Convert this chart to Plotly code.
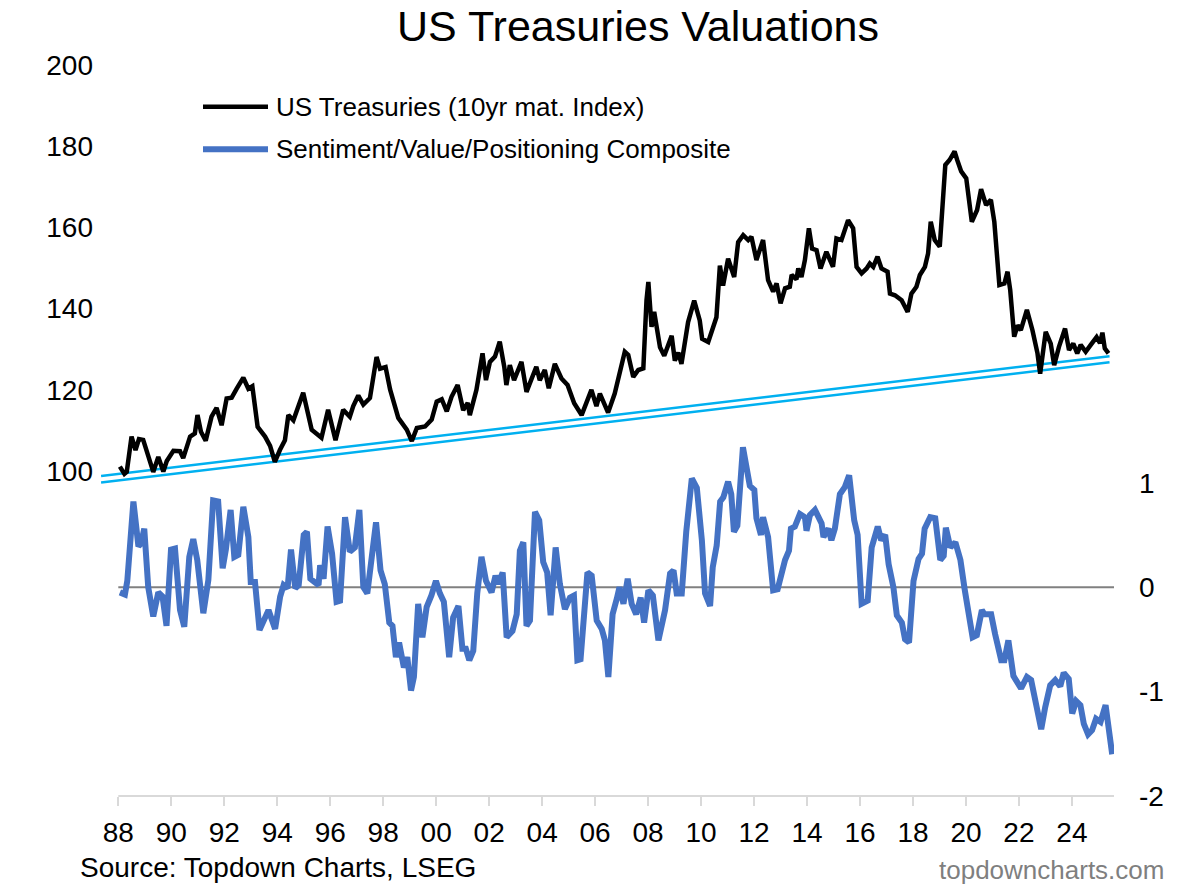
import plotly.graph_objects as go

W, H = 1200, 889
L, R, T, B = 101, 86, 65, 93

# US Treasuries (10yr mat. Index): decimal year, level
ust_year = [
    1988.06, 1988.23, 1988.32, 1988.50, 1988.65, 1988.78, 1988.94, 1989.13, 1989.32, 1989.51,
    1989.70, 1989.83, 1990.08, 1990.33, 1990.45, 1990.71, 1990.89, 1990.99, 1991.12, 1991.30,
    1991.52, 1991.71, 1991.90, 1992.09, 1992.28, 1992.47, 1992.72, 1992.91, 1993.06, 1993.26,
    1993.54, 1993.73, 1993.91, 1994.10, 1994.29, 1994.42, 1994.61, 1994.98, 1995.30, 1995.67,
    1995.92, 1996.20, 1996.49, 1996.74, 1996.87, 1997.06, 1997.25, 1997.50, 1997.75, 1997.88,
    1998.09, 1998.26, 1998.57, 1998.89, 1999.08, 1999.27, 1999.58, 1999.83, 2000.02, 2000.21,
    2000.40, 2000.58, 2000.81, 2001.02, 2001.19, 2001.27, 2001.52, 2001.75, 2001.88, 2002.03,
    2002.22, 2002.40, 2002.57, 2002.65, 2002.78, 2002.94, 2003.22, 2003.41, 2003.57, 2003.78,
    2003.91, 2004.10, 2004.25, 2004.48, 2004.73, 2004.96, 2005.21, 2005.49, 2005.86, 2006.05,
    2006.18, 2006.49, 2006.74, 2006.93, 2007.12, 2007.25, 2007.44, 2007.63, 2007.82, 2007.94,
    2008.01, 2008.13, 2008.23, 2008.45, 2008.61, 2008.89, 2009.01, 2009.14, 2009.26, 2009.51,
    2009.74, 2009.95, 2010.04, 2010.27, 2010.46, 2010.58, 2010.71, 2010.83, 2011.02, 2011.25,
    2011.40, 2011.59, 2011.78, 2011.90, 2012.09, 2012.34, 2012.53, 2012.72, 2012.85, 2013.00,
    2013.17, 2013.35, 2013.42, 2013.60, 2013.67, 2013.79, 2013.92, 2014.07, 2014.19, 2014.36,
    2014.51, 2014.73, 2014.98, 2015.11, 2015.30, 2015.55, 2015.74, 2015.87, 2016.06, 2016.25,
    2016.37, 2016.50, 2016.66, 2016.81, 2017.04, 2017.13, 2017.32, 2017.57, 2017.80, 2017.94,
    2018.13, 2018.26, 2018.45, 2018.57, 2018.67, 2018.82, 2019.01, 2019.22, 2019.38, 2019.57,
    2019.67, 2019.82, 2020.01, 2020.22, 2020.42, 2020.57, 2020.76, 2020.94, 2021.07, 2021.26,
    2021.45, 2021.57, 2021.67, 2021.82, 2021.95, 2022.07, 2022.30, 2022.51, 2022.70, 2022.80,
    2023.01, 2023.20, 2023.33, 2023.51, 2023.74, 2023.89, 2024.05, 2024.20, 2024.33, 2024.52,
    2024.71, 2024.93, 2025.06, 2025.15, 2025.24, 2025.38,
]
ust_value = [
    101.1, 99.3, 99.8, 108.5, 105.2, 107.9, 107.7, 103.5, 99.8, 103.5,
    99.9, 102.5, 105.0, 104.9, 103.2, 108.5, 109.3, 113.8, 109.7, 107.5,
    113.4, 115.6, 111.3, 117.9, 118.1, 120.3, 123.0, 120.3, 120.9, 110.9,
    108.5, 106.2, 102.3, 105.2, 107.6, 113.8, 112.5, 119.3, 110.2, 108.2,
    115.1, 107.6, 115.1, 113.4, 116.0, 118.6, 116.4, 118.0, 128.1, 125.2,
    125.6, 120.1, 113.1, 110.2, 107.4, 110.6, 111.0, 112.7, 117.1, 117.7,
    114.7, 118.3, 121.2, 115.0, 116.8, 113.8, 120.0, 129.0, 122.4, 126.9,
    128.2, 131.9, 125.7, 121.2, 126.1, 122.4, 126.9, 119.5, 122.4, 125.7,
    122.4, 124.9, 120.4, 126.4, 122.8, 121.2, 116.7, 113.8, 120.0, 116.0,
    119.1, 114.4, 119.1, 124.1, 129.4, 128.6, 123.2, 124.9, 125.3, 142.1,
    146.6, 135.5, 139.2, 130.5, 128.4, 133.3, 127.2, 129.2, 126.4, 136.7,
    142.0, 137.1, 132.6, 131.8, 135.5, 137.9, 150.6, 145.7, 152.3, 147.8,
    156.4, 158.1, 156.9, 157.7, 152.0, 156.9, 147.0, 144.2, 146.2, 141.3,
    145.0, 145.4, 148.3, 147.2, 149.9, 147.8, 152.0, 159.8, 154.8, 154.4,
    149.9, 154.0, 150.3, 157.3, 156.9, 161.8, 159.8, 150.3, 148.7, 149.9,
    151.1, 150.3, 152.8, 149.9, 149.1, 143.7, 143.3, 142.1, 139.2, 143.7,
    145.4, 148.3, 150.3, 153.6, 161.4, 156.9, 155.3, 175.4, 176.6, 178.7,
    176.6, 173.8, 172.1, 161.4, 164.3, 169.4, 165.5, 166.8, 161.4, 145.8,
    146.2, 149.1, 144.6, 133.1, 135.9, 134.7, 139.7, 134.7, 129.0, 124.0,
    134.3, 131.4, 126.1, 130.6, 135.1, 129.8, 131.4, 129.0, 131.1, 129.4,
    131.1, 133.0, 131.5, 134.1, 130.2, 129.0,
]

# Sentiment/Value/Positioning Composite: decimal year, score
comp_year = [
    1988.06, 1988.25, 1988.34, 1988.57, 1988.76, 1988.86, 1988.98, 1989.13, 1989.32, 1989.51,
    1989.67, 1989.82, 1989.99, 1990.14, 1990.33, 1990.49, 1990.68, 1990.83, 1990.98, 1991.21,
    1991.40, 1991.58, 1991.77, 1991.94, 1992.06, 1992.24, 1992.38, 1992.53, 1992.72, 1992.91,
    1993.00, 1993.16, 1993.33, 1993.67, 1993.92, 1994.11, 1994.24, 1994.39, 1994.52, 1994.68,
    1994.81, 1995.00, 1995.12, 1995.25, 1995.40, 1995.56, 1995.62, 1995.75, 1995.90, 1996.07,
    1996.24, 1996.37, 1996.56, 1996.74, 1996.93, 1997.10, 1997.25, 1997.40, 1997.73, 1997.90,
    1998.06, 1998.23, 1998.35, 1998.48, 1998.60, 1998.78, 1998.91, 1999.05, 1999.16, 1999.32,
    1999.48, 1999.64, 1999.82, 1999.99, 2000.14, 2000.29, 2000.49, 2000.64, 2000.84, 2000.99,
    2001.12, 2001.25, 2001.40, 2001.55, 2001.71, 2001.88, 2002.09, 2002.24, 2002.34, 2002.51,
    2002.66, 2002.88, 2003.04, 2003.16, 2003.29, 2003.41, 2003.54, 2003.73, 2003.89, 2004.04,
    2004.19, 2004.32, 2004.51, 2004.67, 2004.86, 2005.05, 2005.20, 2005.33, 2005.45, 2005.71,
    2005.87, 2006.06, 2006.25, 2006.37, 2006.50, 2006.66, 2006.82, 2006.92, 2007.07, 2007.23,
    2007.38, 2007.55, 2007.72, 2007.85, 2008.01, 2008.18, 2008.39, 2008.64, 2008.83, 2008.96,
    2009.08, 2009.27, 2009.44, 2009.65, 2009.84, 2010.03, 2010.15, 2010.34, 2010.44, 2010.59,
    2010.72, 2010.84, 2011.02, 2011.14, 2011.24, 2011.37, 2011.58, 2011.75, 2011.84, 2012.01,
    2012.09, 2012.26, 2012.34, 2012.53, 2012.72, 2012.89, 2013.04, 2013.17, 2013.32, 2013.39,
    2013.54, 2013.73, 2013.92, 2013.98, 2014.11, 2014.30, 2014.55, 2014.62, 2014.81, 2014.92,
    2015.05, 2015.24, 2015.43, 2015.59, 2015.78, 2015.91, 2016.06, 2016.29, 2016.44, 2016.67,
    2016.80, 2016.95, 2017.08, 2017.26, 2017.39, 2017.58, 2017.70, 2017.85, 2018.02, 2018.21,
    2018.34, 2018.44, 2018.65, 2018.84, 2019.03, 2019.16, 2019.24, 2019.41, 2019.60, 2019.79,
    2019.95, 2020.10, 2020.25, 2020.41, 2020.60, 2020.70, 2020.95, 2021.10, 2021.33, 2021.45,
    2021.60, 2021.79, 2022.08, 2022.30, 2022.46, 2022.67, 2022.84, 2022.99, 2023.18, 2023.37,
    2023.56, 2023.69, 2023.88, 2024.01, 2024.16, 2024.32, 2024.45, 2024.61, 2024.76, 2024.91,
    2025.08, 2025.27, 2025.39, 2025.46, 2025.52,
]
comp_value = [
    -0.05, -0.07, 0.06, 0.82, 0.39, 0.42, 0.56, 0.00, -0.28, -0.05,
    -0.09, -0.37, 0.36, 0.37, -0.22, -0.38, 0.29, 0.46, 0.26, -0.25,
    0.07, 0.83, 0.82, 0.18, 0.36, 0.74, 0.29, 0.31, 0.77, 0.48,
    0.05, 0.05, -0.41, -0.22, -0.40, -0.09, 0.02, -0.01, 0.36, -0.01,
    0.02, 0.50, 0.53, 0.08, 0.05, 0.02, 0.21, 0.08, 0.58, 0.32,
    -0.14, -0.13, 0.67, 0.34, 0.38, 0.74, 0.00, -0.06, 0.62, 0.16,
    0.03, -0.34, -0.37, -0.67, -0.53, -0.77, -0.67, -0.99, -0.86, -0.16,
    -0.48, -0.19, -0.08, 0.06, -0.06, -0.14, -0.67, -0.29, -0.18, -0.59,
    -0.59, -0.70, -0.61, -0.06, 0.29, 0.06, -0.05, 0.11, 0.03, 0.14,
    -0.48, -0.42, -0.26, 0.35, 0.43, -0.37, -0.32, 0.72, 0.64, 0.24,
    0.14, -0.27, 0.38, 0.03, -0.21, -0.10, -0.08, -0.70, -0.69, 0.14,
    0.11, -0.32, -0.40, -0.51, -0.86, -0.26, -0.11, 0.00, -0.16, 0.08,
    -0.16, -0.26, -0.10, -0.34, -0.03, -0.08, -0.51, -0.22, 0.13, 0.16,
    -0.06, -0.06, 0.53, 1.04, 0.95, 0.45, -0.06, -0.18, 0.19, 0.40,
    0.82, 0.86, 1.01, 0.89, 0.53, 0.59, 1.34, 1.12, 0.97, 0.93,
    0.66, 0.50, 0.67, 0.48, -0.03, -0.02, 0.16, 0.26, 0.35, 0.56,
    0.58, 0.70, 0.67, 0.54, 0.69, 0.74, 0.61, 0.48, 0.56, 0.45,
    0.56, 0.89, 0.96, 1.07, 0.64, 0.50, -0.16, -0.13, 0.38, 0.58,
    0.45, 0.50, 0.22, 0.00, -0.27, -0.34, -0.50, -0.53, 0.06, 0.27,
    0.32, 0.56, 0.67, 0.66, 0.26, 0.30, 0.57, 0.38, 0.43, 0.26,
    -0.02, -0.27, -0.48, -0.46, -0.22, -0.26, -0.26, -0.45, -0.70, -0.70,
    -0.51, -0.85, -0.97, -0.86, -0.89, -1.15, -1.36, -1.15, -0.94, -0.89,
    -0.95, -0.82, -0.88, -1.21, -1.09, -1.13, -1.31, -1.41, -1.37, -1.26,
    -1.29, -1.13, -1.37, -1.55, -1.60,
]

# two parallel support lines drawn under the index
trend_year = [1987.35, 2025.42]
trend_upper = [98.8, 128.3]
trend_lower = [97.2, 126.8]

tick_years = list(range(1988, 2025, 2))
tick_labels = [f"{y % 100:02d}" for y in tick_years]
left_ticks = [100, 120, 140, 160, 180, 200]
right_ticks = [-2, -1, 0, 1]
right_labels = ["-2", "-1", "0", "1"]

X_RANGE = [1987.347, 2025.588]
FONT = "Liberation Sans, Arial, sans-serif"
CYAN = "#00B0F0"
BLUE = "#4472C4"


def px(x):
    return (x - L) / (W - L - R)


def py(y):
    return (H - B - y) / (H - T - B)


fig = go.Figure()

for vals in (trend_upper, trend_lower):
    fig.add_trace(go.Scatter(x=trend_year, y=vals, mode="lines", yaxis="y",
                             line=dict(color=CYAN, width=2.5), showlegend=False,
                             hoverinfo="skip"))

fig.add_trace(go.Scatter(x=ust_year, y=ust_value, mode="lines", yaxis="y",
                         name="US Treasuries (10yr mat. Index)",
                         line=dict(color="black", width=4.5), showlegend=False))
fig.add_trace(go.Scatter(x=comp_year, y=comp_value, mode="lines", yaxis="y2",
                         name="Sentiment/Value/Positioning Composite",
                         line=dict(color=BLUE, width=6), showlegend=False))

shapes = [
    # zero line for the composite
    dict(type="line", xref="x", yref="y2", x0=1988, x1=X_RANGE[1], y0=0, y1=0,
         line=dict(color="#808080", width=2), layer="below"),
    # date axis line, starting at the first tick
    dict(type="line", xref="x", yref="paper", x0=1988, x1=X_RANGE[1], y0=0, y1=0,
         line=dict(color="#D9D9D9", width=2), layer="below"),
    # legend samples
    dict(type="line", xref="paper", yref="paper", x0=px(203), x1=px(268),
         y0=py(106.7), y1=py(106.7), line=dict(color="black", width=4.5)),
    dict(type="line", xref="paper", yref="paper", x0=px(203), x1=px(268),
         y0=py(149.3), y1=py(149.3), line=dict(color=BLUE, width=6)),
]

annotations = [
    dict(text="US Treasuries (10yr mat. Index)", x=px(274), y=py(106.7)),
    dict(text="Sentiment/Value/Positioning Composite", x=px(274), y=py(149.3)),
]
annotations = [dict(a, xref="paper", yref="paper", xanchor="left", yanchor="middle",
                    showarrow=False, font=dict(size=26, color="black", family=FONT))
               for a in annotations]
annotations += [
    dict(text="Source: Topdown Charts, LSEG", x=px(78), y=py(868), xref="paper",
         yref="paper", xanchor="left", yanchor="middle", showarrow=False,
         font=dict(size=28, color="black", family=FONT)),
    dict(text="topdowncharts.com", x=px(1166), y=py(870), xref="paper",
         yref="paper", xanchor="right", yanchor="middle", showarrow=False,
         font=dict(size=26, color="#7F7F7F", family=FONT)),
]

fig.update_layout(
    width=W, height=H,
    margin=dict(l=L, r=R, t=T, b=B),
    paper_bgcolor="white", plot_bgcolor="white",
    font=dict(family=FONT, color="black", size=28),
    title=dict(text="US Treasuries Valuations", xref="container", yref="container",
               x=638 / W, y=1 - 26 / H, xanchor="center", yanchor="middle",
               font=dict(size=43, color="black", family=FONT)),
    xaxis=dict(range=X_RANGE, tickvals=tick_years, ticktext=tick_labels,
               showgrid=False, zeroline=False, showline=False,
               ticks="outside", ticklen=9, tickwidth=2, tickcolor="#D9D9D9",
               tickfont=dict(size=28), ticklabelstandoff=2),
    yaxis=dict(range=[20, 200], tickvals=left_ticks, showgrid=False,
               zeroline=False, showline=False, ticks="",
               tickfont=dict(size=28), ticklabelstandoff=7),
    yaxis2=dict(range=[-2, 5], tickvals=right_ticks, ticktext=right_labels,
                overlaying="y", side="right",
                showgrid=False, zeroline=False, showline=False, ticks="",
                tickfont=dict(size=28), ticklabelstandoff=24),
    shapes=shapes,
    annotations=annotations,
    showlegend=False,
)

fig.write_html("out.html", config={"displayModeBar": False},
               post_script="document.body.style.margin='0';")
